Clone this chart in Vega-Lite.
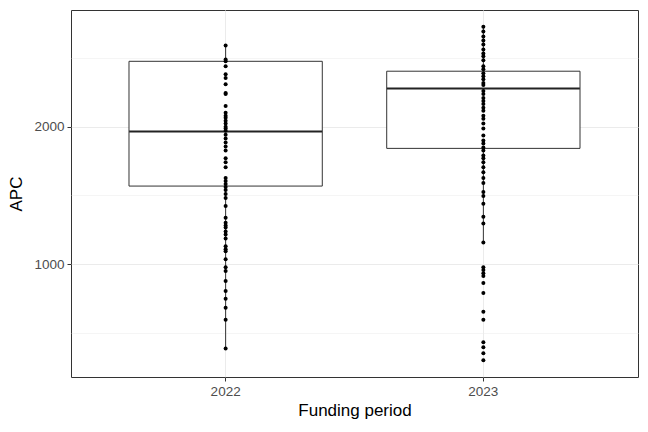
{
  "$schema": "https://vega.github.io/schema/vega-lite/v6.json",
  "autosize": {"type": "none"},
  "padding": {"left": 71, "top": 10, "right": 10, "bottom": 55},
  "width": 567,
  "height": 367,
  "background": "white",
  "config": {
    "font": "Liberation Sans",
    "view": {"stroke": "#333333", "strokeWidth": 1},
    "axis": {
      "domain": false,
      "gridColor": "#EBEBEB",
      "tickColor": "#333333",
      "tickSize": 4,
      "labelColor": "#4D4D4D",
      "labelFontSize": 13.5,
      "labelFont": "Liberation Sans",
      "titleFont": "Liberation Sans",
      "titleFontSize": 17,
      "titleFontWeight": "normal",
      "titleColor": "#000000",
      "labelPadding": 3
    }
  },
  "datasets": {
    "points": [
      {"period": "2022", "APC": 2590}, {"period": "2022", "APC": 2489}, {"period": "2022", "APC": 2475}, {"period": "2022", "APC": 2439},
      {"period": "2022", "APC": 2381}, {"period": "2022", "APC": 2353}, {"period": "2022", "APC": 2309}, {"period": "2022", "APC": 2245},
      {"period": "2022", "APC": 2237}, {"period": "2022", "APC": 2151}, {"period": "2022", "APC": 2101}, {"period": "2022", "APC": 2079},
      {"period": "2022", "APC": 2065}, {"period": "2022", "APC": 2043}, {"period": "2022", "APC": 2022}, {"period": "2022", "APC": 2000},
      {"period": "2022", "APC": 1986}, {"period": "2022", "APC": 1971}, {"period": "2022", "APC": 1942}, {"period": "2022", "APC": 1914},
      {"period": "2022", "APC": 1885}, {"period": "2022", "APC": 1856}, {"period": "2022", "APC": 1827}, {"period": "2022", "APC": 1770},
      {"period": "2022", "APC": 1741}, {"period": "2022", "APC": 1705}, {"period": "2022", "APC": 1626}, {"period": "2022", "APC": 1604},
      {"period": "2022", "APC": 1583}, {"period": "2022", "APC": 1561}, {"period": "2022", "APC": 1540}, {"period": "2022", "APC": 1511},
      {"period": "2022", "APC": 1482}, {"period": "2022", "APC": 1424}, {"period": "2022", "APC": 1338}, {"period": "2022", "APC": 1302},
      {"period": "2022", "APC": 1281}, {"period": "2022", "APC": 1266}, {"period": "2022", "APC": 1237}, {"period": "2022", "APC": 1216},
      {"period": "2022", "APC": 1187}, {"period": "2022", "APC": 1130}, {"period": "2022", "APC": 1108}, {"period": "2022", "APC": 1094},
      {"period": "2022", "APC": 1036}, {"period": "2022", "APC": 978}, {"period": "2022", "APC": 950}, {"period": "2022", "APC": 878},
      {"period": "2022", "APC": 806}, {"period": "2022", "APC": 748}, {"period": "2022", "APC": 683}, {"period": "2022", "APC": 597},
      {"period": "2022", "APC": 388},
      {"period": "2023", "APC": 2727}, {"period": "2023", "APC": 2691}, {"period": "2023", "APC": 2655}, {"period": "2023", "APC": 2626},
      {"period": "2023", "APC": 2597}, {"period": "2023", "APC": 2561}, {"period": "2023", "APC": 2532}, {"period": "2023", "APC": 2511},
      {"period": "2023", "APC": 2482}, {"period": "2023", "APC": 2439}, {"period": "2023", "APC": 2417}, {"period": "2023", "APC": 2388},
      {"period": "2023", "APC": 2367}, {"period": "2023", "APC": 2345}, {"period": "2023", "APC": 2317}, {"period": "2023", "APC": 2302},
      {"period": "2023", "APC": 2259}, {"period": "2023", "APC": 2237}, {"period": "2023", "APC": 2209}, {"period": "2023", "APC": 2187},
      {"period": "2023", "APC": 2165}, {"period": "2023", "APC": 2137}, {"period": "2023", "APC": 2115}, {"period": "2023", "APC": 2079},
      {"period": "2023", "APC": 2058}, {"period": "2023", "APC": 2022}, {"period": "2023", "APC": 1986}, {"period": "2023", "APC": 1935},
      {"period": "2023", "APC": 1899}, {"period": "2023", "APC": 1878}, {"period": "2023", "APC": 1849}, {"period": "2023", "APC": 1827},
      {"period": "2023", "APC": 1791}, {"period": "2023", "APC": 1770}, {"period": "2023", "APC": 1741}, {"period": "2023", "APC": 1705},
      {"period": "2023", "APC": 1669}, {"period": "2023", "APC": 1626}, {"period": "2023", "APC": 1590}, {"period": "2023", "APC": 1525},
      {"period": "2023", "APC": 1496}, {"period": "2023", "APC": 1439}, {"period": "2023", "APC": 1345}, {"period": "2023", "APC": 1295},
      {"period": "2023", "APC": 1158}, {"period": "2023", "APC": 978}, {"period": "2023", "APC": 957}, {"period": "2023", "APC": 935},
      {"period": "2023", "APC": 914}, {"period": "2023", "APC": 863}, {"period": "2023", "APC": 791}, {"period": "2023", "APC": 655},
      {"period": "2023", "APC": 597}, {"period": "2023", "APC": 432}, {"period": "2023", "APC": 396}, {"period": "2023", "APC": 353},
      {"period": "2023", "APC": 302}
    ],
    "summary": [
      {"period": "2022", "lower": 388, "q1": 1568, "median": 1964, "q3": 2475, "upper": 2590},
      {"period": "2023", "lower": 1158, "q1": 1842, "median": 2278, "q3": 2403, "upper": 2727}
    ]
  },
  "encoding": {
    "x": {
      "field": "period", "type": "nominal",
      "scale": {"domain": ["2022", "2023"], "paddingInner": 0.25, "paddingOuter": 0.225},
      "axis": {"title": "Funding period", "labelAngle": 0, "bandPosition": 0.5, "grid": true, "gridWidth": 1, "titlePadding": 5}
    }
  },
  "layer": [
    {
      "data": {"name": "summary"},
      "mark": {"type": "rule", "color": "#333333", "strokeWidth": 1},
      "encoding": {
        "y": {"field": "lower", "type": "quantitative", "scale": {"domain": [180, 2848], "nice": false, "zero": false},
          "axis": {
            "title": "APC",
            "values": [500, 1000, 1500, 2000, 2500],
            "format": "d",
            "labelExpr": "datum.value % 1000 === 0 ? datum.label : ''",
            "tickOpacity": {"condition": {"test": "datum.value % 1000 === 0", "value": 1}, "value": 0},
            "gridWidth": {"condition": {"test": "datum.value % 1000 === 0", "value": 1}, "value": 0.5},
            "titlePadding": 8
          }},
        "y2": {"field": "upper"}
      }
    },
    {
      "data": {"name": "summary"},
      "mark": {"type": "bar", "fill": "white", "stroke": "#333333", "strokeWidth": 1},
      "encoding": {
        "y": {"field": "q1", "type": "quantitative"},
        "y2": {"field": "q3"}
      }
    },
    {
      "data": {"name": "summary"},
      "mark": {"type": "tick", "color": "#222222", "thickness": 2, "size": 193, "orient": "horizontal", "opacity": 1},
      "encoding": {
        "y": {"field": "median", "type": "quantitative"}
      }
    },
    {
      "data": {"name": "points"},
      "mark": {"type": "point", "filled": true, "color": "#000000", "opacity": 1, "size": 16},
      "encoding": {
        "y": {"field": "APC", "type": "quantitative"}
      }
    }
  ]
}
